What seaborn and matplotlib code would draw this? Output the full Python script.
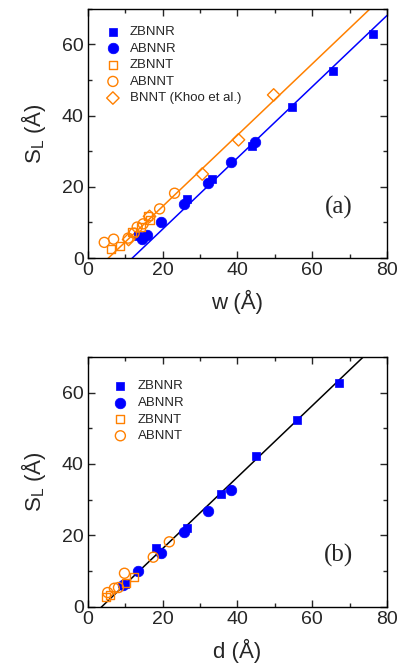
import numpy as np
import matplotlib
matplotlib.use("Agg")
import matplotlib.pyplot as plt
import seaborn as sns
from matplotlib.ticker import MultipleLocator

sns.set_style("ticks")
plt.rcParams['font.family'] = ['Liberation Sans', 'DejaVu Sans']
plt.rcParams['mathtext.fontset'] = 'custom'
plt.rcParams['mathtext.rm'] = 'Liberation Sans'

blue = "#0000FF"
orange = "#FF8000"

# panel (a): S_L vs w
a_zbnnr_w = [13.5, 26.5, 33.1, 43.9, 54.7, 65.6, 76.2]
a_zbnnr_sl = [6.1, 16.6, 22.2, 31.5, 42.3, 52.4, 62.8]
a_abnnr_w = [14.6, 15.8, 19.6, 25.7, 32.1, 38.3, 44.7]
a_abnnr_sl = [5.4, 6.5, 10.0, 15.2, 21.1, 26.9, 32.7]
a_zbnnt_w = [6.2, 8.7, 11.7, 14.2, 16.2, 16.7]
a_zbnnt_sl = [2.5, 3.4, 7.2, 8.6, 11.9, 10.6]
a_abnnt_w = [4.4, 6.9, 10.8, 12.4, 13.2, 14.8, 19.2, 23.2]
a_abnnt_sl = [4.4, 5.3, 5.6, 7.0, 8.7, 9.6, 13.8, 18.2]
a_khoo_w = [10.9, 16.5, 30.6, 40.3, 49.7]
a_khoo_sl = [5.2, 11.7, 23.6, 33.2, 45.8]
# linear fits (slope, intercept)
a_fit_nt = (1.0, -5.5)
a_fit_nr = (1.0, -11.9)

# panel (b): S_L vs d
b_zbnnr_d = [10.0, 18.2, 26.5, 35.6, 45.1, 56.0, 67.2]
b_zbnnr_sl = [6.5, 16.5, 22.1, 31.5, 42.1, 52.3, 62.8]
b_abnnr_d = [9.5, 13.3, 19.6, 25.7, 32.2, 38.3]
b_abnnr_sl = [6.0, 10.0, 15.1, 20.9, 26.8, 32.6]
b_zbnnt_d = [4.8, 6.0, 10.1, 12.4]
b_zbnnt_sl = [2.7, 3.4, 6.6, 8.3]
b_abnnt_d = [5.3, 7.1, 8.2, 9.8, 17.5, 21.8]
b_abnnt_sl = [4.0, 5.2, 5.4, 9.4, 13.9, 18.2]
b_fit = (1.0, -3.7)

fig = plt.figure(figsize=(4.01, 6.72), dpi=100)
ax1 = fig.add_axes([0.219, 0.616, 0.746, 0.371])
ax2 = fig.add_axes([0.219, 0.097, 0.746, 0.372])


def fit_line(ax, fit, color):
    xs = np.linspace(0, 80, 200)
    ys = fit[0] * xs + fit[1]
    sns.lineplot(x=xs, y=ys, color=color, lw=1.1, ax=ax, zorder=1)


def filled(ax, x, y, marker, size, label):
    sns.scatterplot(x=x, y=y, marker=marker, s=size, color=blue,
                    edgecolor=blue, linewidth=0.5, label=label, ax=ax, zorder=3)


def hollow(ax, x, y, marker, size, label):
    sns.scatterplot(x=x, y=y, marker=marker, s=size, facecolor='none',
                    edgecolor=orange, linewidth=1.0, label=label, ax=ax, zorder=3)


fit_line(ax1, a_fit_nt, orange)
fit_line(ax1, a_fit_nr, blue)
filled(ax1, a_zbnnr_w, a_zbnnr_sl, 's', 38, 'ZBNNR')
filled(ax1, a_abnnr_w, a_abnnr_sl, 'o', 58, 'ABNNR')
hollow(ax1, a_zbnnt_w, a_zbnnt_sl, 's', 34, 'ZBNNT')
hollow(ax1, a_abnnt_w, a_abnnt_sl, 'o', 52, 'ABNNT')
hollow(ax1, a_khoo_w, a_khoo_sl, 'D', 40, 'BNNT (Khoo et al.)')

fit_line(ax2, b_fit, 'black')
filled(ax2, b_zbnnr_d, b_zbnnr_sl, 's', 38, 'ZBNNR')
filled(ax2, b_abnnr_d, b_abnnr_sl, 'o', 58, 'ABNNR')
hollow(ax2, b_zbnnt_d, b_zbnnt_sl, 's', 34, 'ZBNNT')
hollow(ax2, b_abnnt_d, b_abnnt_sl, 'o', 52, 'ABNNT')

for ax, xlab, tag, anchor in [(ax1, 'w (Å)', '(a)', (0, 1)),
                              (ax2, 'd (Å)', '(b)', (0.025, 0.975))]:
    ax.set_xlim(0, 80)
    ax.set_ylim(0, 70)
    ax.xaxis.set_major_locator(MultipleLocator(20))
    ax.xaxis.set_minor_locator(MultipleLocator(10))
    ax.yaxis.set_major_locator(MultipleLocator(20))
    ax.yaxis.set_minor_locator(MultipleLocator(10))
    ax.tick_params(which='both', direction='in', top=True, right=True,
                   labelsize=14, width=1, pad=3)
    ax.tick_params(which='major', length=5)
    ax.tick_params(which='minor', length=3)
    for sp in ax.spines.values():
        sp.set_linewidth(1)
        sp.set_color('black')
    ax.set_xlabel(xlab, fontsize=16, labelpad=8)
    ax.set_ylabel(r'S$_\mathregular{L}$ (Å)', fontsize=16, labelpad=10)
    ax.text(67, 14.3, tag, family='Liberation Serif', fontsize=18,
            ha='center', va='center')
    ax.legend(loc='upper left', bbox_to_anchor=anchor, frameon=False,
              fontsize=9.5, handletextpad=0.7, labelspacing=0.33,
              borderaxespad=0.9, handlelength=1.2)

fig.savefig("out.png", dpi=100)
